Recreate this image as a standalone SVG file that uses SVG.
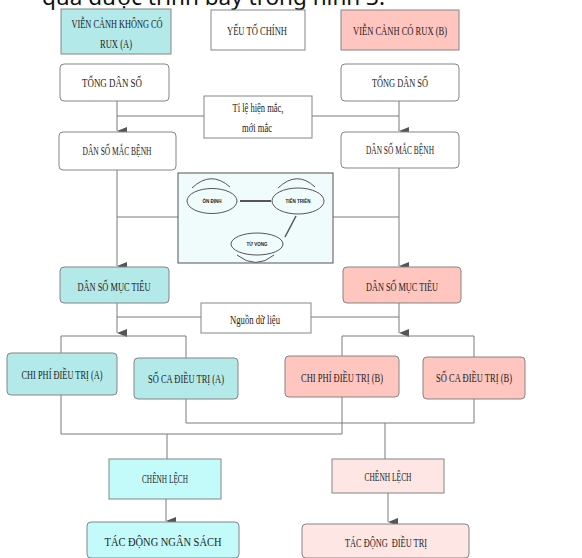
<svg xmlns="http://www.w3.org/2000/svg" width="582" height="558" viewBox="0 0 582 558">
<defs>
<style>
.bx{stroke:#858585;stroke-width:1}
.w{fill:#ffffff}
.ta{fill:#b3e9e8}
.pa{fill:#ffc5be}
.tc{fill:#c3fbfb}
.pc{fill:#fde6e3}
.t{font-family:"Liberation Serif","Times New Roman",serif;font-size:12px;fill:#222;text-anchor:middle;dominant-baseline:central}
.s{font-family:"Liberation Sans",Arial,sans-serif;font-size:4.5px;font-weight:bold;fill:#222;text-anchor:middle;dominant-baseline:central}
.ln{fill:none;stroke:#7a7a7a;stroke-width:1}
.st{fill:none;stroke:#555;stroke-width:1}
</style>
<marker id="ar" markerWidth="8" markerHeight="10" refX="4" refY="10" orient="auto" markerUnits="userSpaceOnUse" viewBox="0 0 8 10">
<path d="M0,0 L8,0 L4,10 Z" fill="#555"/>
</marker>
</defs>
<rect width="582" height="558" fill="#ffffff"/>
<text x="42" y="5" font-family="'Noto Sans','Open Sans',sans-serif" font-size="22" fill="#111" textLength="343" lengthAdjust="spacingAndGlyphs">quả được trình bày trong hình 3.</text>

<g id="connectors">
<path class="ln" d="M117,101 V131" marker-end="url(#ar)"/>
<path class="ln" d="M399,101 V131" marker-end="url(#ar)"/>
<path class="ln" d="M117,116 H204 M312,116 H399"/>
<path class="ln" d="M117,170 V266" marker-end="url(#ar)"/>
<path class="ln" d="M399,168 V266" marker-end="url(#ar)"/>
<path class="ln" d="M117,217 H178 M333,217 H399"/>
<path class="ln" d="M117,303 V333" marker-end="url(#ar)"/>
<path class="ln" d="M399,303 V333" marker-end="url(#ar)"/>
<path class="ln" d="M117,317 H201 M311,317 H399"/>
<path class="ln" d="M61,353 V336 H186 V358"/>
<path class="ln" d="M342,356 V336 H474 V357"/>
<path class="ln" d="M61,395 V434 H342 V397"/>
<path class="ln" d="M186,399 V423 H474 V399"/>
<path class="ln" d="M167,434 V459"/>
<path class="ln" d="M385,423 V459"/>
<path class="ln" d="M166,499 V521" marker-end="url(#ar)"/>
<path class="ln" d="M388,493 V522" marker-end="url(#ar)"/>
</g>

<g id="scenA">
<rect class="bx ta" x="61" y="9" width="110" height="45"/>
<text class="t" x="117" y="24" textLength="91" lengthAdjust="spacingAndGlyphs">VIỄN CẢNH KHÔNG CÓ</text>
<text class="t" x="116" y="44" textLength="32" lengthAdjust="spacingAndGlyphs">RUX (A)</text>
</g>
<g id="yeuto">
<rect class="bx w" x="211" y="10" width="94" height="40"/>
<text class="t" x="257" y="31" textLength="60" lengthAdjust="spacingAndGlyphs">YẾU TỐ CHÍNH</text>
</g>
<g id="scenB">
<rect class="bx pa" x="341" y="10" width="118" height="40"/>
<text class="t" x="400" y="31" textLength="94" lengthAdjust="spacingAndGlyphs">VIỄN CẢNH CÓ RUX (B)</text>
</g>

<g id="tongA">
<rect class="bx w" x="60" y="64" width="109" height="37" rx="4"/>
<text class="t" x="112" y="83" textLength="60" lengthAdjust="spacingAndGlyphs">TỔNG DÂN SỐ</text>
</g>
<g id="tongB">
<rect class="bx w" x="341" y="64" width="118" height="37" rx="4"/>
<text class="t" x="400" y="83" textLength="56" lengthAdjust="spacingAndGlyphs">TỔNG DÂN SỐ</text>
</g>
<g id="tile">
<rect class="bx w" x="204" y="96" width="108" height="42"/>
<text class="t" x="258" y="108" textLength="51" lengthAdjust="spacingAndGlyphs">Tỉ lệ hiện mắc,</text>
<text class="t" x="257" y="128" textLength="30" lengthAdjust="spacingAndGlyphs">mới mắc</text>
</g>

<g id="macA">
<rect class="bx w" x="59" y="132" width="117" height="38" rx="4"/>
<text class="t" x="117" y="151" textLength="69" lengthAdjust="spacingAndGlyphs">DÂN SỐ MẮC BỆNH</text>
</g>
<g id="macB">
<rect class="bx w" x="341" y="132" width="118" height="36" rx="4"/>
<text class="t" x="400" y="150" textLength="68" lengthAdjust="spacingAndGlyphs">DÂN SỐ MẮC BỆNH</text>
</g>

<g id="states">
<rect x="178" y="173" width="155" height="90" fill="#f0fcfc" stroke="#555" stroke-width="1"/>
<ellipse class="st" cx="212" cy="201" rx="25" ry="12.5" fill="#f0fcfc"/>
<text class="s" x="212" y="201">ỔN ĐỊNH</text>
<ellipse class="st" cx="298" cy="201" rx="26" ry="13" fill="#f0fcfc"/>
<text class="s" x="298" y="201">TIẾN TRIỂN</text>
<ellipse class="st" cx="257" cy="244" rx="26" ry="11" fill="#f0fcfc"/>
<text class="s" x="257" y="244">TỬ VONG</text>
<path d="M240,201 H271" stroke="#555" stroke-width="2"/>
<path d="M296,216 L285,237" stroke="#555" stroke-width="1.5"/>
<path d="M192,188 Q211,170 230,187" class="st" stroke-width="1.3"/>
<path d="M278,188 Q297,170 315,187" class="st" stroke-width="1.3"/>
<path d="M237,255 Q256,270 274,255" class="st" stroke-width="1.3"/>
</g>

<g id="mucA">
<rect class="bx ta" x="60" y="267" width="109" height="36" rx="4"/>
<text class="t" x="114" y="287" textLength="73" lengthAdjust="spacingAndGlyphs">DÂN SỐ MỤC TIÊU</text>
</g>
<g id="mucB">
<rect class="bx pa" x="343" y="267" width="118" height="36" rx="4"/>
<text class="t" x="402" y="287" textLength="72" lengthAdjust="spacingAndGlyphs">DÂN SỐ MỤC TIÊU</text>
</g>
<g id="nguon">
<rect class="bx w" x="201" y="303" width="110" height="30"/>
<text class="t" x="255" y="320" textLength="50" lengthAdjust="spacingAndGlyphs">Nguồn dữ liệu</text>
</g>

<g id="chiA">
<rect class="bx ta" x="7" y="353" width="110" height="42" rx="4"/>
<text class="t" x="62" y="375" textLength="81" lengthAdjust="spacingAndGlyphs">CHI PHÍ ĐIỀU TRỊ (A)</text>
</g>
<g id="socaA">
<rect class="bx ta" x="134" y="358" width="104" height="41" rx="4"/>
<text class="t" x="186" y="379" textLength="76" lengthAdjust="spacingAndGlyphs">SỐ CA ĐIỀU TRỊ (A)</text>
</g>
<g id="chiB">
<rect class="bx pa" x="285" y="356" width="114" height="41" rx="4"/>
<text class="t" x="342" y="378" textLength="82" lengthAdjust="spacingAndGlyphs">CHI PHÍ ĐIỀU TRỊ (B)</text>
</g>
<g id="socaB">
<rect class="bx pa" x="423" y="357" width="102" height="42" rx="4"/>
<text class="t" x="474" y="378" textLength="76" lengthAdjust="spacingAndGlyphs">SỐ CA ĐIỀU TRỊ (B)</text>
</g>

<g id="chenhA">
<rect class="bx tc" x="109" y="459" width="112" height="40"/>
<text class="t" x="165" y="479" font-size="10" textLength="46" lengthAdjust="spacingAndGlyphs">CHÊNH LỆCH</text>
</g>
<g id="chenhB">
<rect class="bx pc" x="332" y="459" width="112" height="34"/>
<text class="t" x="388" y="477" font-size="10" textLength="47" lengthAdjust="spacingAndGlyphs">CHÊNH LỆCH</text>
</g>
<g id="tacA">
<rect class="bx tc" x="87" y="522" width="152" height="36" rx="4"/>
<text class="t" x="163" y="542" font-size="16" textLength="117" lengthAdjust="spacingAndGlyphs">TÁC ĐỘNG NGÂN SÁCH</text>
</g>
<g id="tacB">
<rect class="bx pc" x="302" y="524" width="167" height="34" rx="4"/>
<text class="t" x="386" y="543" textLength="82" lengthAdjust="spacingAndGlyphs" style="white-space:pre">TÁC ĐỘNG  ĐIỀU TRỊ</text>
</g>
</svg>
